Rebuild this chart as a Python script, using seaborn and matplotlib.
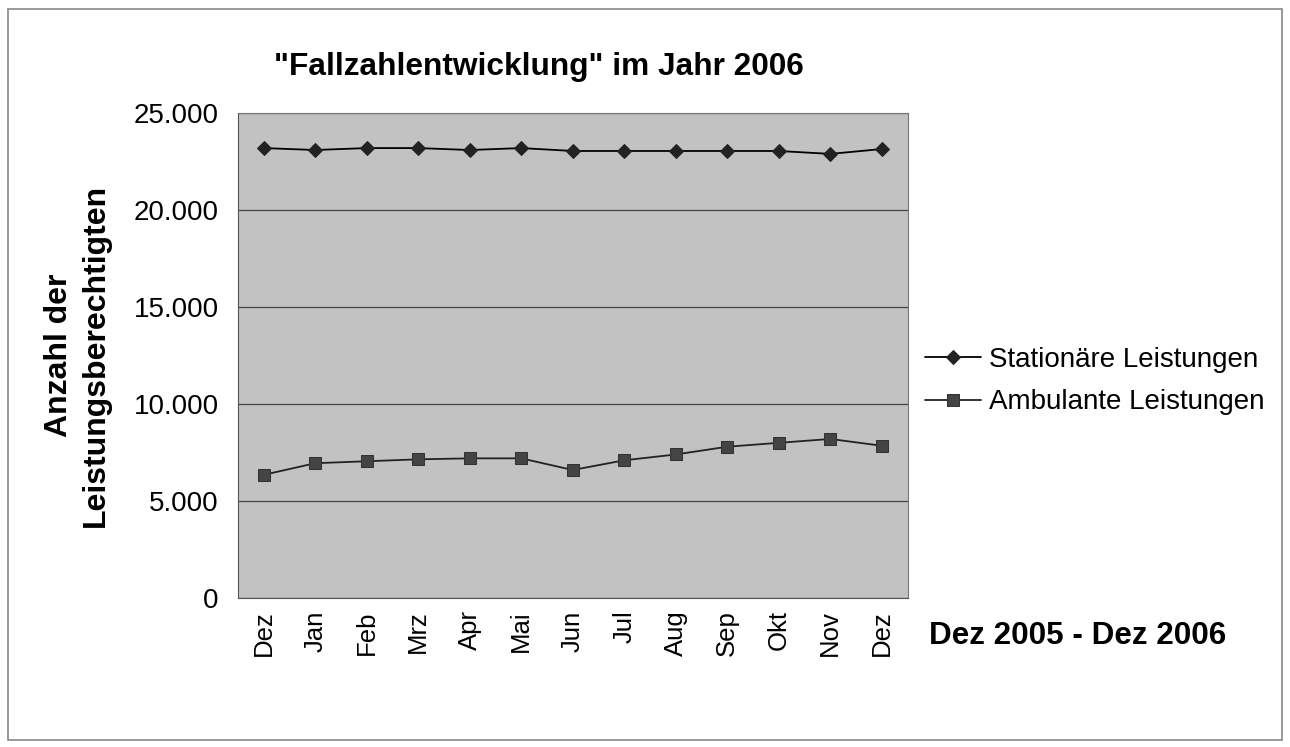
import numpy as np
import pandas as pd
import matplotlib
matplotlib.use("Agg")
import matplotlib.pyplot as plt
import seaborn as sns

# --- Daten ---
monate = ["Dez", "Jan", "Feb", "Mrz", "Apr", "Mai", "Jun",
          "Jul", "Aug", "Sep", "Okt", "Nov", "Dez"]
stationaer = [23200, 23100, 23200, 23200, 23100, 23200, 23050,
              23050, 23050, 23050, 23050, 22900, 23150]
ambulant = [6350, 6950, 7050, 7150, 7200, 7200, 6600,
            7100, 7400, 7800, 8000, 8200, 7850]

sns.set_style("white")
plt.rcParams["font.family"] = ["Liberation Sans", "DejaVu Sans"]
plt.rcParams.update({"text.color": "black", "axes.labelcolor": "black",
                     "xtick.color": "black", "ytick.color": "black"})

fig = plt.figure(figsize=(12.9, 7.47), dpi=100)
ax = fig.add_axes([0.1845, 0.1995, 0.519, 0.649])

pos = np.arange(len(monate))
df = pd.DataFrame({"pos": pos, "stat": stationaer, "amb": ambulant})

sns.lineplot(data=df, x="pos", y="stat", ax=ax, color="black", lw=1.3,
             marker="D", markersize=7, markerfacecolor="#222222",
             markeredgecolor="#222222", label="Stationäre Leistungen")
sns.lineplot(data=df, x="pos", y="amb", ax=ax, color="#222222", lw=1.3,
             marker="s", markersize=8, markerfacecolor="#444444",
             markeredgecolor="#333333", label="Ambulante Leistungen")

ax.set_facecolor("#c2c2c2")
ax.set_xlim(-0.5, len(monate) - 0.5)
ax.set_ylim(0, 25000)
ax.set_yticks(np.arange(0, 25001, 5000))
ax.set_yticklabels([f"{v:,}".replace(",", ".") for v in range(0, 25001, 5000)],
                   fontsize=20)
ax.yaxis.grid(True, color="#444444", lw=0.9)
ax.set_axisbelow(True)

ax.set_xticks(pos)
ax.set_xticklabels(monate, rotation=90, fontsize=18.5)
ax.set_xticks(np.arange(-0.5, len(monate)), minor=True)
ax.tick_params(axis="x", which="major", length=0, pad=9)
ax.tick_params(axis="x", which="minor", length=6, color="#555555", direction="out")
ax.tick_params(axis="y", length=6, color="#555555", direction="out", pad=8)

for s in ["top", "right"]:
    ax.spines[s].set_color("#777777")
for s in ["left", "bottom"]:
    ax.spines[s].set_color("#555555")

ax.set_xlabel("")
ax.set_ylabel("Anzahl der\nLeistungsberechtigten", fontsize=23,
              fontweight="bold", labelpad=16, linespacing=1.3)
fig.text(0.418, 0.91, "\"Fallzahlentwicklung\" im Jahr 2006", ha="center",
         va="center", fontsize=22.8, fontweight="bold")
fig.text(0.72, 0.148, "Dez 2005 - Dez 2006", ha="left", va="center",
         fontsize=22.6, fontweight="bold")

ax.legend(loc="center left", bbox_to_anchor=(0.698, 0.49),
          bbox_transform=fig.transFigure, frameon=False, fontsize=20,
          handlelength=2.0, handletextpad=0.3, labelspacing=0.6)

# Rahmen um das ganze Diagramm
fig.patches.append(plt.Rectangle((0.006, 0.01), 0.988, 0.978, fill=False,
                                 edgecolor="#888888", lw=1.2,
                                 transform=fig.transFigure, figure=fig))

fig.savefig("out.png", dpi=100, facecolor="white")
